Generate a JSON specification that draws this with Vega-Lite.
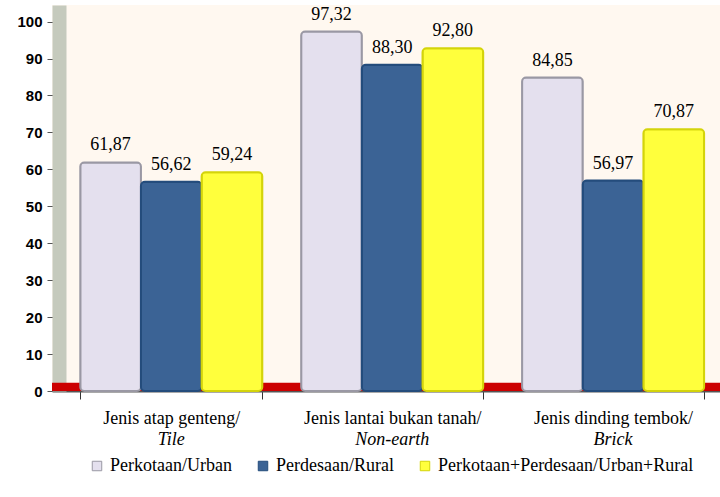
{
  "$schema": "https://vega.github.io/schema/vega-lite/v6.json",
  "width": 668,
  "height": 386,
  "autosize": {"type": "none"},
  "padding": {"left": 52, "top": 5, "right": 0, "bottom": 106},
  "background": "white",
  "config": {
    "view": {"fill": "#FFF8F0", "stroke": null},
    "locale": {"number": {"decimal": ",", "thousands": ".", "grouping": [3], "currency": ["", ""]}},
    "axisY": {
      "title": null, "values": [0, 10, 20, 30, 40, 50, 60, 70, 80, 90, 100], "grid": false,
      "labelFont": "Liberation Sans", "labelFontWeight": "bold", "labelFontSize": 15,
      "labelColor": "black", "tickColor": "#555", "tickSize": 12, "labelPadding": 5,
      "offset": -7, "domainColor": "#C5CABD", "domainWidth": 14, "labelOverlap": false
    }
  },
  "data": {
    "values": [
      {"cat": "Jenis atap genteng/", "series": "Perkotaan/Urban", "value": 61.87},
      {"cat": "Jenis atap genteng/", "series": "Perdesaan/Rural", "value": 56.62},
      {"cat": "Jenis atap genteng/", "series": "Perkotaan+Perdesaan/Urban+Rural", "value": 59.24},
      {"cat": "Jenis lantai bukan tanah/", "series": "Perkotaan/Urban", "value": 97.32},
      {"cat": "Jenis lantai bukan tanah/", "series": "Perdesaan/Rural", "value": 88.30},
      {"cat": "Jenis lantai bukan tanah/", "series": "Perkotaan+Perdesaan/Urban+Rural", "value": 92.80},
      {"cat": "Jenis dinding tembok/", "series": "Perkotaan/Urban", "value": 84.85},
      {"cat": "Jenis dinding tembok/", "series": "Perdesaan/Rural", "value": 56.97},
      {"cat": "Jenis dinding tembok/", "series": "Perkotaan+Perdesaan/Urban+Rural", "value": 70.87}
    ]
  },
  "layer": [
    {
      "data": {"values": [{}]},
      "mark": {"type": "rect", "color": "#CC0000"},
      "encoding": {
        "y": {"datum": 0, "type": "quantitative", "scale": {"domain": [0, 104.5], "nice": false}},
        "y2": {"datum": 2.2}
      }
    },
    {
      "mark": {"type": "bar", "cornerRadius": 4, "strokeWidth": 2},
      "encoding": {
        "x": {
          "field": "cat", "type": "nominal", "sort": null,
          "scale": {"paddingInner": 0.176, "paddingOuter": 0.1, "align": 0.64},
          "axis": {
            "title": null, "orient": "bottom", "labelAngle": 0, "labelFont": "Liberation Serif", "labelFontSize": 18,
            "labelColor": "black", "tickBand": "extent", "tickSize": 8, "tickColor": "#333",
            "domainColor": "#555", "domainWidth": 2, "labelPadding": 10
          }
        },
        "xOffset": {"field": "series", "type": "nominal", "sort": null, "scale": {"paddingInner": 0}},
        "y": {"field": "value", "type": "quantitative"},
        "fill": {
          "field": "series", "type": "nominal", "sort": null,
          "scale": {"range": ["#E4E0EE", "#3B6395", "#FFFF3C"]},
          "legend": {
            "title": null, "orient": "none", "legendX": 36, "legendY": 452, "direction": "horizontal", "symbolType": "square",
            "symbolSize": 90, "symbolStrokeColor": "#555", "symbolStrokeWidth": 1,
            "labelFont": "Liberation Serif", "labelFontSize": 18, "labelColor": "black",
            "labelLimit": 0, "columnPadding": 22
          }
        },
        "stroke": {
          "field": "series", "type": "nominal", "sort": null,
          "scale": {"range": ["#9A98A4", "#244C7C", "#D4D40A"]},
          "legend": null
        }
      }
    },
    {
      "mark": {"type": "text", "baseline": "bottom", "dy": -8, "font": "Liberation Serif", "fontSize": 18, "color": "black"},
      "encoding": {
        "x": {
          "field": "cat", "type": "nominal", "sort": null,
          "axis": {
            "title": null, "orient": "bottom", "labelAngle": 0, "labelFont": "Liberation Serif", "labelFontSize": 18,
            "labelFontStyle": "italic", "labelColor": "black", "ticks": false, "domain": false,
            "labelPadding": 39,
            "labelExpr": "datum.value == 'Jenis atap genteng/' ? 'Tile' : datum.value == 'Jenis lantai bukan tanah/' ? 'Non-earth' : 'Brick'"
          }
        },
        "xOffset": {"field": "series", "type": "nominal", "sort": null},
        "y": {"field": "value", "type": "quantitative"},
        "text": {"field": "value", "type": "quantitative", "format": ".2f"}
      }
    }
  ],
  "resolve": {"axis": {"x": "independent"}}
}
